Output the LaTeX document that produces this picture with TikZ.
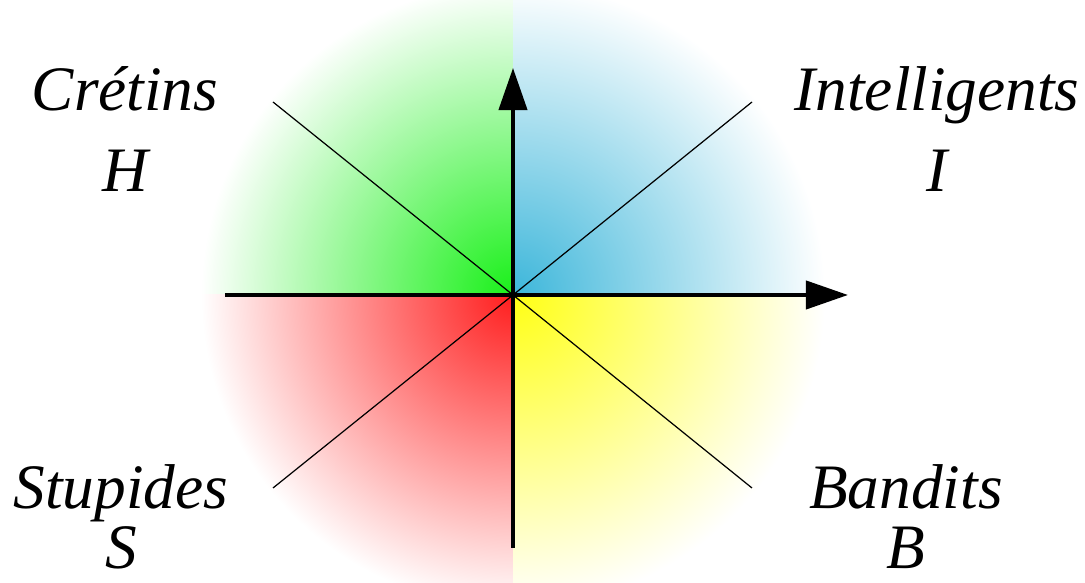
\documentclass[tikz,border=0pt]{standalone}
\usepackage{fontspec}
\setmainfont{Liberation Serif}
\usepackage{tikz}
\usetikzlibrary{positioning,arrows.meta}

\definecolor{qgreen}{RGB}{25,240,25}
\definecolor{qblue}{RGB}{60,182,218}
\definecolor{qred}{RGB}{255,30,30}
\definecolor{qyellow}{RGB}{255,255,20}

\begin{document}
\begin{tikzpicture}[
x=0.01cm, y=0.01cm,
every node/.style={
align=center,
font=\fontsize{18}{23}\selectfont\itshape
},
axis/.style={line width=1.15pt,-{Triangle[length=4.2mm,width=2.8mm]}},
diag/.style={line width=0.35pt}
]
\useasboundingbox (-513,-288) rectangle (572,295);

% coloured quadrants
\foreach \sx/\sy/\col in {-1/1/qgreen, 1/1/qblue, -1/-1/qred, 1/-1/qyellow}{
\begin{scope}
\clip (0,0) rectangle (\sx*330,\sy*300);
\shade[inner color=\col, outer color=white] (0,0) circle (312);
\end{scope}
}

\coordinate (O) at (0,0);
\coordinate (xmin) at (-288,0);
\coordinate (xmax) at (335,0);
\coordinate (ymin) at (0,-253);
\coordinate (ymax) at (0,227);
\coordinate (nw) at (-240,193);
\coordinate (ne) at (239,193);
\coordinate (sw) at (-240,-193);
\coordinate (se) at (239,-193);

\draw[diag] (O) -- (nw);
\draw[diag] (O) -- (ne);
\draw[diag] (O) -- (sw);
\draw[diag] (O) -- (se);

\draw[axis] (xmin) -- (xmax);
\draw[axis] (ymin) -- (ymax);

\node (cretins) at (-388,166) {Crétins\\H};
\node (intel) at (424,166) {Intelligents\\I};
\node (stup) at (-392,-222) {Stupides\\[-6pt]S};
\node (band) at (393,-222) {Bandits\\[-6pt]B};

\end{tikzpicture}
\end{document}
